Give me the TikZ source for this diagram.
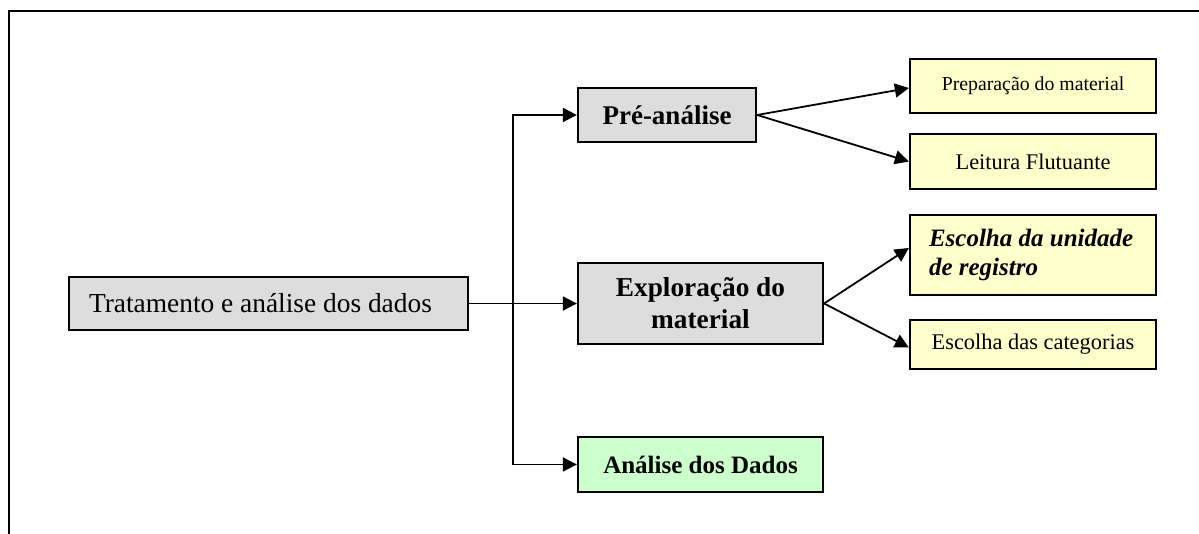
\documentclass[tikz,border=0pt]{standalone}
\usepackage{fontspec}
\setmainfont{Liberation Serif}
\usetikzlibrary{arrows.meta}
\definecolor{boxgrey}{HTML}{DDDDDD}
\definecolor{boxyellow}{HTML}{FFFFCC}
\definecolor{boxgreen}{HTML}{CCFFCC}
\tikzset{
  box/.style={draw=black, line width=2.3pt, inner sep=0pt, rectangle, align=center},
  conn/.style={line width=1.8pt, draw=black},
  arr/.style={conn, -{Triangle[length=14pt,width=14pt]}},
}
\begin{document}
\begin{tikzpicture}[x=1pt,y=-1pt]
\useasboundingbox (0,0) rectangle (1199,534);
\draw[line width=2.7pt] (9,534) -- (9,11) -- (1199,11);

\node[box, fill=boxgrey, minimum width=399pt, minimum height=53pt, inner xsep=20pt,
  font=\fontsize{27.4}{32}\selectfont] (main) at (268.5,303.5) {\makebox[359pt][l]{Tratamento e análise dos dados}};

\node[box, fill=boxgrey, minimum width=178pt, minimum height=54pt,
  font=\fontsize{27}{32}\selectfont\bfseries] (pre) at (667,115) {Pré-análise};
\node[box, fill=boxgrey, minimum width=245pt, minimum height=81pt,
  font=\fontsize{27.3}{32}\selectfont\bfseries] (expl) at (700.5,303.5) {Exploração do\\material};
\node[box, fill=boxgreen, minimum width=245pt, minimum height=55pt,
  font=\fontsize{25}{30}\selectfont\bfseries] (ana) at (700.5,464.5) {Análise dos Dados};

\node[box, fill=boxyellow, minimum width=246pt, minimum height=54pt,
  font=\fontsize{19.8}{24}\selectfont] (prep) at (1033,86) {Preparação do material};
\node[box, fill=boxyellow, minimum width=246pt, minimum height=55pt,
  font=\fontsize{22.4}{27}\selectfont] (leit) at (1033,161.5) {Leitura Flutuante};
\node[box, fill=boxyellow, minimum width=246pt, minimum height=80pt, inner xsep=19pt,
  font=\fontsize{25}{29}\selectfont\bfseries\itshape] (unid) at (1033,255) {\makebox[208pt][l]{Escolha da unidade}\\\makebox[208pt][l]{de registro}};
\node[box, fill=boxyellow, minimum width=246pt, minimum height=49pt,
  font=\fontsize{22.4}{27}\selectfont] (cat) at (1033,344.5) {Escolha das categorias};

\coordinate (j) at (513,303.5);
\draw[conn] (main.east) -- (j);
\draw[arr] (j) -- (expl.west);
\draw[arr] (j) |- (pre.west);
\draw[arr] (j) |- (ana.west);

\draw[arr] (pre.east) -- ([yshift=-2pt]prep.west);
\draw[arr] (pre.east) -- (leit.west);
\draw[arr] (expl.east) -- ([yshift=7pt]unid.west);
\draw[arr] (expl.east) -- ([yshift=-3pt]cat.west);
\end{tikzpicture}
\end{document}
